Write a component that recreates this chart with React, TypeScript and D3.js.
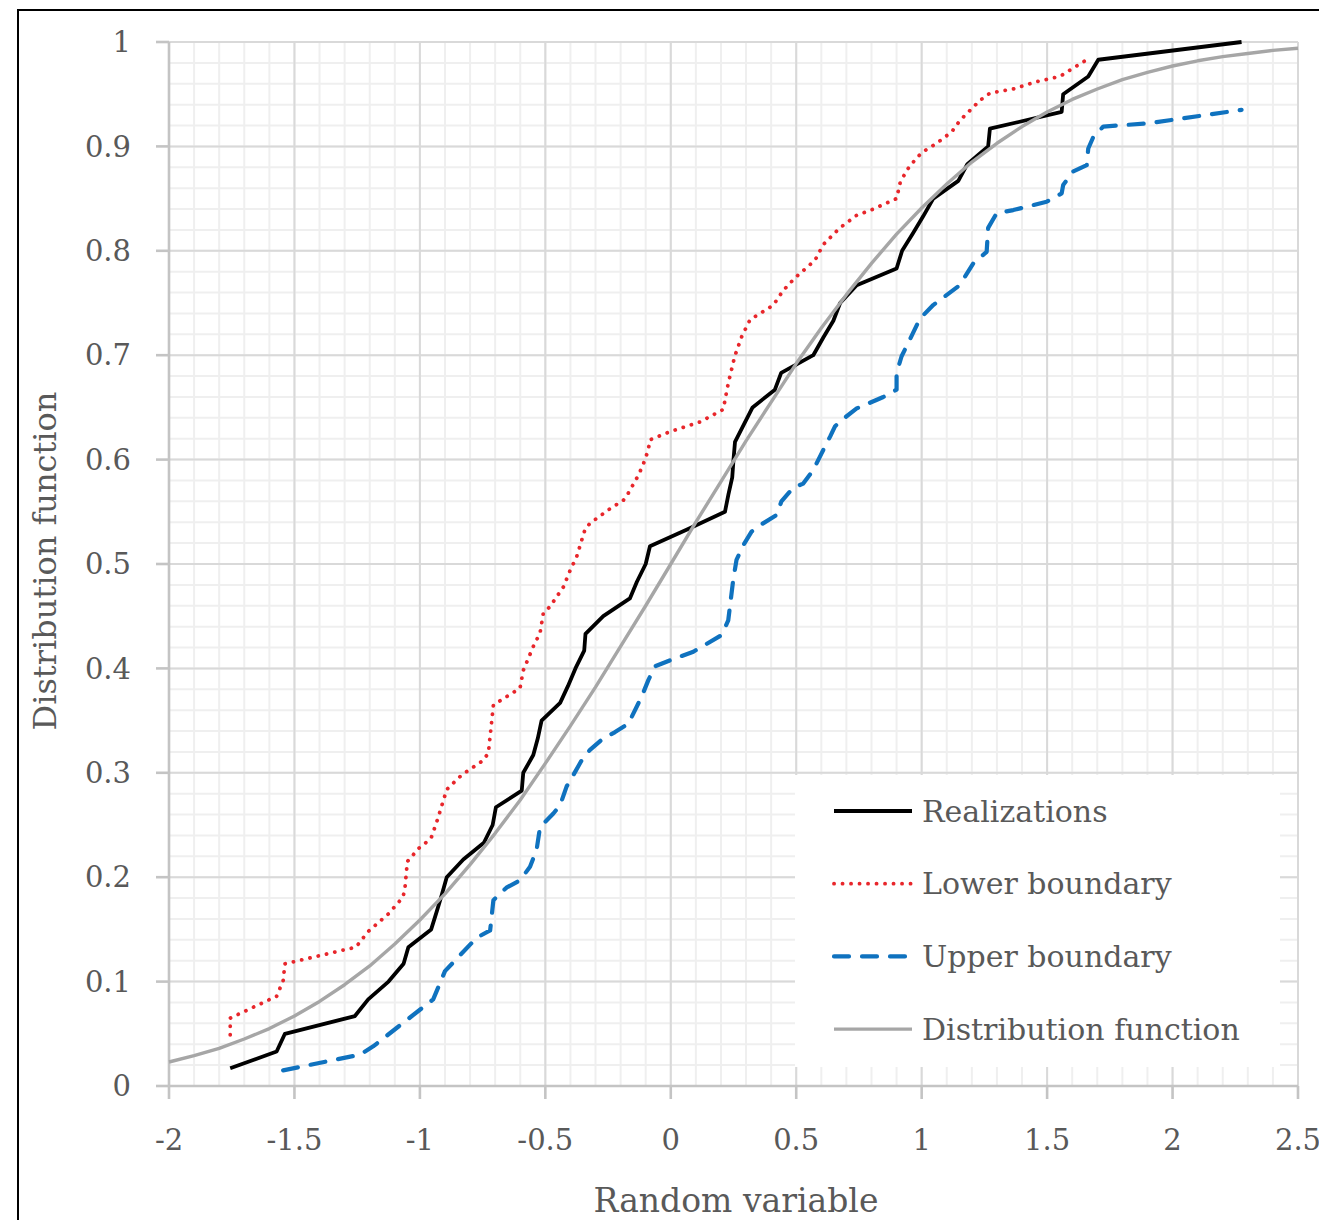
import React from 'react';
import * as d3 from 'd3';

// values
const xTicks = [-2, -1.5, -1, -0.5, 0, 0.5, 1, 1.5, 2, 2.5];
const xTickLabels = ['-2', '-1.5', '-1', '-0.5', '0', '0.5', '1', '1.5', '2', '2.5'];
const yTicks = [0, 0.1, 0.2, 0.3, 0.4, 0.5, 0.6, 0.7, 0.8, 0.9, 1];
const yTickLabels = ['0', '0.1', '0.2', '0.3', '0.4', '0.5', '0.6', '0.7', '0.8', '0.9', '1'];

const realX = [
  -1.756, -1.571, -1.538, -1.259, -1.206, -1.125, -1.065, -1.046, -0.955, -0.933,
  -0.913, -0.893, -0.827, -0.745, -0.71, -0.697, -0.594, -0.588, -0.548, -0.53,
  -0.515, -0.441, -0.41, -0.38, -0.345, -0.34, -0.269, -0.163, -0.135, -0.1,
  -0.083, 0.065, 0.216, 0.23, 0.245, 0.25, 0.256, 0.29, 0.326, 0.415,
  0.44, 0.568, 0.608, 0.648, 0.675, 0.741, 0.9, 0.922, 0.966, 1.006,
  1.046, 1.146, 1.182, 1.265, 1.272, 1.558, 1.564, 1.664, 1.704, 2.275,
];
const realY = [
  0.017, 0.033, 0.05, 0.067, 0.083, 0.1, 0.117, 0.133, 0.15, 0.167,
  0.183, 0.2, 0.217, 0.233, 0.25, 0.267, 0.283, 0.3, 0.317, 0.333,
  0.35, 0.367, 0.383, 0.4, 0.417, 0.433, 0.45, 0.467, 0.483, 0.5,
  0.517, 0.533, 0.55, 0.567, 0.583, 0.6, 0.617, 0.633, 0.65, 0.667,
  0.683, 0.7, 0.717, 0.733, 0.75, 0.767, 0.783, 0.8, 0.817, 0.833,
  0.85, 0.867, 0.883, 0.9, 0.917, 0.933, 0.95, 0.967, 0.983, 1.0,
];

const lowerX = [
  -1.756, -1.756, -1.571, -1.545, -1.538, -1.255, -1.206, -1.125, -1.067, -1.059,
  -1.05, -1.003, -0.956, -0.93, -0.893, -0.833, -0.747, -0.727, -0.707, -0.687,
  -0.601, -0.588, -0.548, -0.521, -0.508, -0.482, -0.428, -0.401, -0.375, -0.342,
  -0.322, -0.242, -0.189, -0.169, -0.129, -0.109, -0.09, -0.083, 0.0, 0.116,
  0.209, 0.229, 0.255, 0.283, 0.316, 0.409, 0.448, 0.495, 0.575, 0.608,
  0.674, 0.741, 0.807, 0.9, 0.914, 0.94, 0.98, 1.006, 1.06, 1.12,
  1.153, 1.199, 1.232, 1.272, 1.365, 1.458, 1.551, 1.604, 1.658,
];
const lowerY = [
  0.049, 0.065, 0.086, 0.101, 0.117, 0.133, 0.148, 0.165, 0.181, 0.191,
  0.215, 0.228, 0.237, 0.255, 0.284, 0.298, 0.312, 0.319, 0.365, 0.368,
  0.381, 0.398, 0.421, 0.434, 0.453, 0.459, 0.478, 0.494, 0.507, 0.533,
  0.539, 0.553, 0.561, 0.568, 0.585, 0.596, 0.609, 0.619, 0.627, 0.636,
  0.648, 0.673, 0.699, 0.718, 0.734, 0.748, 0.762, 0.774, 0.791, 0.806,
  0.822, 0.834, 0.84, 0.85, 0.865, 0.877, 0.889, 0.895, 0.903, 0.914,
  0.925, 0.936, 0.944, 0.951, 0.955, 0.962, 0.967, 0.975, 0.983,
];

const upperX = [
  -1.545, -1.239, -1.186, -0.947, -0.9, -0.774, -0.72, -0.707, -0.655, -0.601,
  -0.561, -0.535, -0.521, -0.468, -0.441, -0.415, -0.388, -0.355, -0.322, -0.269,
  -0.222, -0.169, -0.116, -0.089, -0.063, 0.0, 0.09, 0.203, 0.229, 0.249,
  0.262, 0.289, 0.322, 0.355, 0.422, 0.441, 0.488, 0.528, 0.568, 0.601,
  0.635, 0.655, 0.682, 0.741, 0.847, 0.9, 0.9, 0.92, 0.953, 0.993,
  1.046, 1.146, 1.172, 1.206, 1.259, 1.265, 1.299, 1.365, 1.498, 1.558,
  1.564, 1.604, 1.658, 1.664, 1.684, 1.724, 1.9, 2.275,
];
const upperY = [
  0.015, 0.03, 0.038, 0.083, 0.11, 0.142, 0.149, 0.178, 0.19, 0.197,
  0.21, 0.226, 0.248, 0.261, 0.269, 0.287, 0.298, 0.312, 0.322, 0.333,
  0.339, 0.347, 0.373, 0.389, 0.402, 0.408, 0.416, 0.432, 0.446, 0.485,
  0.504, 0.518, 0.531, 0.537, 0.547, 0.56, 0.573, 0.577, 0.59, 0.606,
  0.622, 0.632, 0.638, 0.649, 0.66, 0.667, 0.683, 0.699, 0.715, 0.735,
  0.748, 0.766, 0.775, 0.788, 0.799, 0.822, 0.836, 0.839, 0.847, 0.855,
  0.863, 0.876, 0.882, 0.898, 0.909, 0.919, 0.922, 0.935,
];

const distX = [
  -2, -1.9, -1.8, -1.7, -1.6, -1.5, -1.4, -1.3, -1.2, -1.1, -1, -0.9, -0.8, -0.7, -0.6, -0.5,
  -0.4, -0.3, -0.2, -0.1, 0, 0.1, 0.2, 0.3, 0.4, 0.5, 0.6, 0.7, 0.8, 0.9, 1, 1.1,
  1.2, 1.3, 1.4, 1.5, 1.6, 1.7, 1.8, 1.9, 2, 2.1, 2.2, 2.3, 2.4, 2.5,
];
const distY = [
  0.023, 0.029, 0.036, 0.045, 0.055, 0.067, 0.081, 0.097, 0.115, 0.136, 0.159, 0.184, 0.212, 0.242, 0.274, 0.309,
  0.345, 0.382, 0.421, 0.46, 0.5, 0.54, 0.579, 0.618, 0.655, 0.692, 0.726, 0.758, 0.788, 0.816, 0.841, 0.864,
  0.885, 0.903, 0.919, 0.933, 0.945, 0.955, 0.964, 0.971, 0.977, 0.982, 0.986, 0.989, 0.992, 0.994,
];

const legendNames = ['Realizations', 'Lower boundary', 'Upper boundary', 'Distribution function'];

const W = 1319;
const H = 1220;
const FONT = '"DejaVu Serif", serif';
const TEXT = '#595959';

export default function App() {
  const x = d3.scaleLinear().domain([-2, 2.5]).range([169, 1298]);
  const y = d3.scaleLinear().domain([0, 1]).range([1086, 42]);

  const line = d3.line<[number, number]>()
    .x(d => x(d[0]))
    .y(d => y(d[1]));

  const zip = (xs: number[], ys: number[]) => xs.map((v, i) => [v, ys[i]] as [number, number]);

  const minorX = d3.range(-2, 2.5001, 0.1);
  const minorY = d3.range(0, 1.0001, 0.02);

  const series = [
    { name: legendNames[0], d: line(zip(realX, realY)), stroke: '#000000', width: 3.8, dash: undefined, cap: 'butt' },
    { name: legendNames[1], d: line(zip(lowerX, lowerY)), stroke: '#e8262b', width: 3.8, dash: '0.1 8.4', cap: 'round' },
    { name: legendNames[2], d: line(zip(upperX, upperY)), stroke: '#0f72bf', width: 4.2, dash: '15 13', cap: 'round' },
    { name: legendNames[3], d: line(zip(distX, distY)), stroke: '#a6a6a6', width: 3.4, dash: undefined, cap: 'butt' },
  ];

  const [x0, x1] = x.range();
  const [y0, y1] = y.range();

  return (
    <svg width={W} height={H} style={{ position: 'absolute', left: 0, top: 0, background: '#fff' }}>
      <rect x={0} y={0} width={W} height={H} fill="#fff" />
      <rect x={18} y={10} width={W + 100} height={H + 100} fill="none" stroke="#000" strokeWidth={2} />

      {/* minor grid */}
      {minorX.map((v, i) => (
        <line key={'mx' + i} x1={x(v)} x2={x(v)} y1={y1} y2={y0} stroke="#efefef" strokeWidth={2} />
      ))}
      {minorY.map((v, i) => (
        <line key={'my' + i} x1={x0} x2={x1} y1={y(v)} y2={y(v)} stroke="#efefef" strokeWidth={2} />
      ))}

      {/* major grid */}
      {xTicks.map((v, i) => (
        <line key={'gx' + i} x1={x(v)} x2={x(v)} y1={y1} y2={y0} stroke="#d9d9d9" strokeWidth={2} />
      ))}
      {yTicks.map((v, i) => (
        <line key={'gy' + i} x1={x0} x2={x1} y1={y(v)} y2={y(v)} stroke="#d9d9d9" strokeWidth={2} />
      ))}

      {/* axes and ticks */}
      <line x1={x0} x2={x0} y1={y1} y2={y0} stroke="#c4c4c4" strokeWidth={2.6} />
      <line x1={x0} x2={x1} y1={y0} y2={y0} stroke="#c4c4c4" strokeWidth={2.6} />
      {yTicks.map((v, i) => (
        <line key={'ty' + i} x1={x0 - 13} x2={x0} y1={y(v)} y2={y(v)} stroke="#c4c4c4" strokeWidth={2.6} />
      ))}
      {xTicks.map((v, i) => (
        <line key={'tx' + i} x1={x(v)} x2={x(v)} y1={y0} y2={y0 + 13} stroke="#c4c4c4" strokeWidth={2.6} />
      ))}

      {yTicks.map((v, i) => (
        <text key={'ly' + i} x={131} y={y(v)} dy="0.35em" textAnchor="end"
          fontFamily={FONT} fontSize={29} fill={TEXT}>{yTickLabels[i]}</text>
      ))}
      {xTicks.map((v, i) => (
        <text key={'lx' + i} x={x(v)} y={1140} dy="0.35em" textAnchor="middle"
          fontFamily={FONT} fontSize={29} fill={TEXT}>{xTickLabels[i]}</text>
      ))}

      <text x={736} y={1212} textAnchor="middle" fontFamily={FONT} fontSize={33} fill={TEXT}>
        Random variable
      </text>
      <text transform="translate(56,561) rotate(-90)" textAnchor="middle" fontFamily={FONT} fontSize={32} fill={TEXT}>
        Distribution function
      </text>

      {/* legend box hides the grid */}
      <rect x={795} y={775} width={485} height={292} fill="#ffffff" />

      {series.map(s => (
        <path key={s.name} d={s.d ?? ''} fill="none" stroke={s.stroke} strokeWidth={s.width}
          strokeDasharray={s.dash} strokeLinecap={s.cap as any} strokeLinejoin="round" />
      ))}

      {series.map((s, i) => {
        const ly = 811 + i * 72.7;
        return (
          <g key={'lg' + i}>
            <line x1={834} x2={912} y1={ly} y2={ly} stroke={s.stroke} strokeWidth={s.width}
              strokeDasharray={s.dash} strokeLinecap={s.cap as any} />
            <text x={922} y={ly} dy="0.35em" fontFamily={FONT} fontSize={30} fill={TEXT}>{s.name}</text>
          </g>
        );
      })}
    </svg>
  );
}
